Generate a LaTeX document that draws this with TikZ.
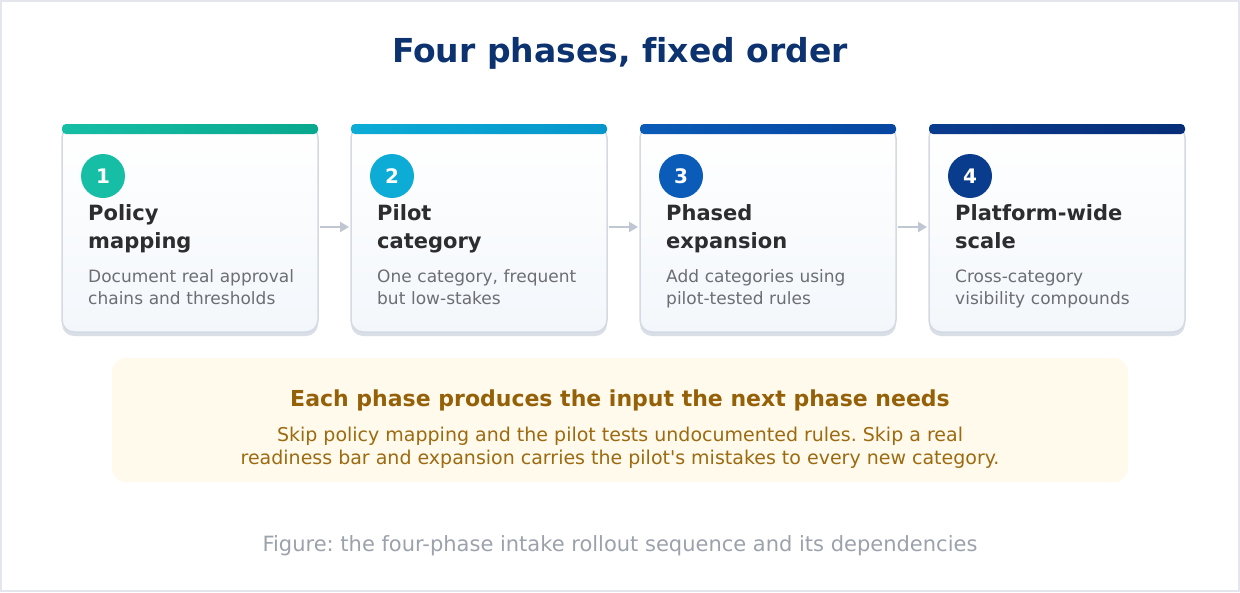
\documentclass[tikz,border=0pt]{standalone}
\usepackage{fontspec}
\setmainfont{DejaVu Sans}[Ligatures={TeXOff,CommonOff}]
\usepackage{xcolor}
\usepackage{tikz}
\usetikzlibrary{positioning, shadows}
\usetikzlibrary{arrows.meta}
\tikzset{>={Triangle[width=10pt,length=9pt]}}
\frenchspacing

\definecolor{titleblue}{RGB}{12,50,112}
\definecolor{frameline}{RGB}{228,230,238}
\definecolor{cardborder}{RGB}{212,218,227}
\definecolor{cardbottom}{RGB}{243,247,251}
\definecolor{cardshadow}{RGB}{218,223,231}
\definecolor{headgray}{RGB}{45,45,48}
\definecolor{descgray}{RGB}{108,110,116}
\definecolor{arrowgray}{RGB}{192,198,210}
\definecolor{tealA}{RGB}{22,190,166}
\definecolor{tealB}{RGB}{8,168,142}
\definecolor{cyanA}{RGB}{12,172,214}
\definecolor{cyanB}{RGB}{6,150,204}
\definecolor{blueA}{RGB}{10,92,184}
\definecolor{blueB}{RGB}{6,70,160}
\definecolor{navyA}{RGB}{10,60,142}
\definecolor{navyB}{RGB}{6,46,120}
\definecolor{notefill}{RGB}{255,250,236}
\definecolor{notehead}{RGB}{148,96,8}
\definecolor{notebody}{RGB}{156,106,16}
\definecolor{captiongray}{RGB}{156,162,172}

\begin{document}
\begin{tikzpicture}[x=1pt, y=-1pt, card/.style={rectangle, rounded corners=12pt, draw=cardborder, line width=1.5pt, outer sep=0pt, top color=white, bottom color=cardbottom, minimum width=256pt, minimum height=206pt, inner sep=0pt, drop shadow={shadow xshift=0pt, shadow yshift=-4pt, fill=cardshadow, opacity=1}}, badge/.style={circle, minimum size=44pt, inner sep=0pt, text=white, font=\bfseries\fontsize{20}{24}\selectfont}, headtext/.style={anchor=base west, text width=225pt, align=left, inner sep=0pt, text=headgray, font=\bfseries\fontsize{21}{28}\selectfont}, desctext/.style={anchor=base west, text width=225pt, align=left, inner sep=0pt, text=descgray, font=\fontsize{17}{22}\selectfont}, link/.style={->, draw=arrowgray, fill=arrowgray, line width=2.5pt, shorten <=2pt, shorten >=2pt}]

    \useasboundingbox (0,0) rectangle (1240,592);
    \fill[white] (0,0) rectangle (1240,592);
    \draw[frameline, line width=2pt] (1,1) rectangle (1239,591);

    %Nodes
    \node[text=titleblue, font=\bfseries\fontsize{33}{36}\selectfont, anchor=base](title) at (620,62.5){Four phases, fixed order};

    \node[card](c1) at (190,229){};
    \node[card](c2)[right=33pt of c1]{};
    \node[card](c3)[right=33pt of c2]{};
    \node[card](c4)[right=33pt of c3]{};

    \shade[left color=tealA, right color=tealB, rounded corners=4pt] ([yshift=2pt]c1.north west) rectangle ([yshift=-8pt]c1.north east);
    \shade[left color=cyanA, right color=cyanB, rounded corners=4pt] ([yshift=2pt]c2.north west) rectangle ([yshift=-8pt]c2.north east);
    \shade[left color=blueA, right color=blueB, rounded corners=4pt] ([yshift=2pt]c3.north west) rectangle ([yshift=-8pt]c3.north east);
    \shade[left color=navyA, right color=navyB, rounded corners=4pt] ([yshift=2pt]c4.north west) rectangle ([yshift=-8pt]c4.north east);

    \node[badge, fill=tealA](n1) at ([xshift=41pt,yshift=-50pt]c1.north west){1};
    \node[badge, fill=cyanA](n2) at ([xshift=41pt,yshift=-50pt]c2.north west){2};
    \node[badge, fill=blueA](n3) at ([xshift=41pt,yshift=-50pt]c3.north west){3};
    \node[badge, fill=navyA](n4) at ([xshift=41pt,yshift=-50pt]c4.north west){4};

    \node[headtext](h1) at ([xshift=26pt,yshift=-94pt]c1.north west){Policy\\mapping};
    \node[headtext](h2) at ([xshift=26pt,yshift=-94pt]c2.north west){Pilot\\category};
    \node[headtext](h3) at ([xshift=26pt,yshift=-94pt]c3.north west){Phased\\expansion};
    \node[headtext](h4) at ([xshift=26pt,yshift=-94pt]c4.north west){Platform-wide\\scale};

    \node[desctext](d1) at ([xshift=26pt,yshift=-156pt]c1.north west){Document real approval\\chains and thresholds};
    \node[desctext](d2) at ([xshift=26pt,yshift=-156pt]c2.north west){One category, frequent\\but low-stakes};
    \node[desctext](d3) at ([xshift=26pt,yshift=-156pt]c3.north west){Add categories using\\pilot-tested rules};
    \node[desctext](d4) at ([xshift=26pt,yshift=-156pt]c4.north west){Cross-category\\visibility compounds};

    \node[rectangle, rounded corners=14pt, fill=notefill, minimum width=1016pt, minimum height=124pt](note) at (620,420){};
    \node[anchor=base, inner sep=0pt, text=notehead, font=\bfseries\fontsize{22}{26}\selectfont](notetitle) at ([yshift=-48.5pt]note.north){Each phase produces the input the next phase needs};
    \node[anchor=base, inner sep=0pt, align=center, text=notebody, font=\fontsize{19}{23}\selectfont](notetext) at ([yshift=-107pt]note.north){Skip policy mapping and the pilot tests undocumented rules. Skip a real\\readiness bar and expansion carries the pilot's mistakes to every new category.};

    \node[anchor=base, text=captiongray, font=\fontsize{21}{24}\selectfont](caption) at (620,551){Figure: the four-phase intake rollout sequence and its dependencies};

    %Lines
    \draw[link] ([yshift=2pt]c1.east) -- ([yshift=2pt]c2.west);
    \draw[link] ([yshift=2pt]c2.east) -- ([yshift=2pt]c3.west);
    \draw[link] ([yshift=2pt]c3.east) -- ([yshift=2pt]c4.west);

\end{tikzpicture}
\end{document}
